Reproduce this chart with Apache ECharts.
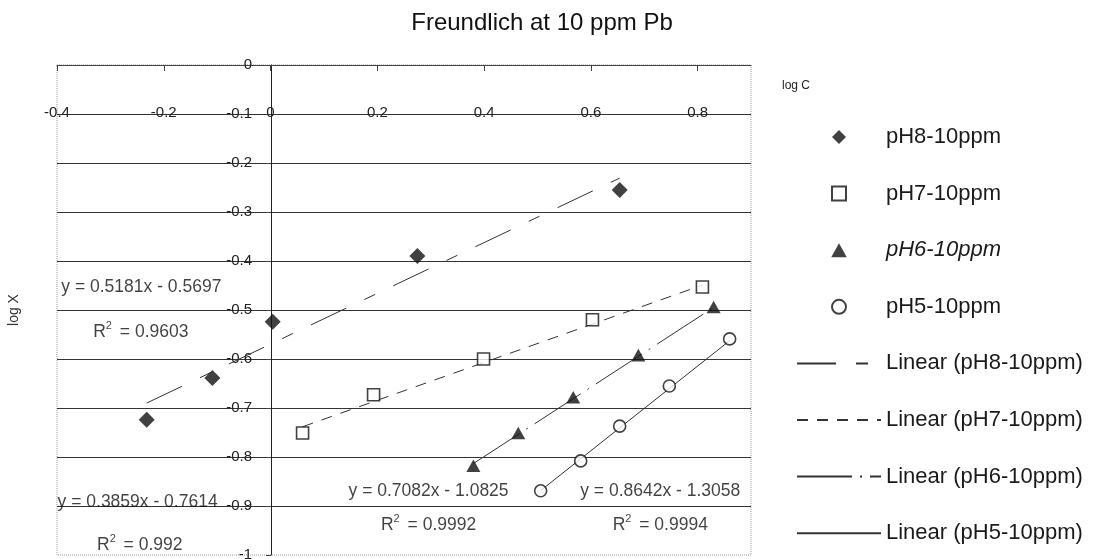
<!DOCTYPE html>
<html><head><meta charset="utf-8">
<script src="https://cdn.jsdelivr.net/npm/echarts@6/dist/echarts.min.js"></script>
<style>html,body{margin:0;padding:0;background:#fff}#c{width:1095px;height:559px}</style>
</head><body><div id="c"></div>
<script>
// ---- data ----
const seriesNames = ['pH8-10ppm', 'pH7-10ppm', 'pH6-10ppm', 'pH5-10ppm'];
const ph8X = [-0.232, -0.109, 0.004, 0.275, 0.654];
const ph8Y = [-0.724, -0.639, -0.524, -0.390, -0.255];
const ph7X = [0.060, 0.193, 0.399, 0.603, 0.809];
const ph7Y = [-0.751, -0.673, -0.600, -0.520, -0.453];
const ph6X = [0.380, 0.464, 0.567, 0.689, 0.830];
const ph6Y = [-0.818, -0.751, -0.678, -0.592, -0.494];
const ph5X = [0.506, 0.581, 0.654, 0.747, 0.860];
const ph5Y = [-0.869, -0.808, -0.737, -0.655, -0.559];
const slopes = [0.5181, 0.3859, 0.7082, 0.8642];
const intercepts = [-0.5697, -0.7614, -1.0825, -1.3058];
const r2Values = ['0.9603', '0.992', '0.9992', '0.9994'];
const eqTexts = ['y = 0.5181x - 0.5697', 'y = 0.3859x - 0.7614', 'y = 0.7082x - 1.0825', 'y = 0.8642x - 1.3058'];

const xs = [ph8X, ph7X, ph6X, ph5X];
const ys = [ph8Y, ph7Y, ph6Y, ph5Y];
const zip = (a, b) => a.map((v, i) => [v, b[i]]);

// ---- styles ----
const symbols = ['path://M0,-1L1,0L0,1L-1,0Z', 'path://M-1,-1L1,-1L1,1L-1,1Z', 'path://M0,-1L1,0.8L-1,0.8Z', 'circle'];
const symSizes = [16, 12, 14, 12];
const filled = [true, false, true, false];
const dashes = [[39, 20, 12, 20], [11, 9], [55, 8, 2, 8], 'solid'];

const series = [];
seriesNames.forEach((n, i) => {
  series.push({
    name: n, type: 'scatter', data: zip(xs[i], ys[i]),
    symbol: symbols[i], symbolSize: symSizes[i], symbolKeepAspect: true, z: 5,
    itemStyle: filled[i] ? { color: '#111' } : { color: '#fff', borderColor: '#111', borderWidth: 1.6 }
  });
});
seriesNames.forEach((n, i) => {
  const x0 = Math.min(...xs[i]), x1 = Math.max(...xs[i]);
  series.push({
    name: 'Linear (' + n + ')', type: 'line', symbol: 'none', z: 3,
    data: [[x0, slopes[i] * x0 + intercepts[i]], [x1, slopes[i] * x1 + intercepts[i]]],
    lineStyle: { color: '#333', width: 1, type: dashes[i] },
    itemStyle: { color: '#333' }
  });
});

// equation annotations (positions in data units)
const eqPos = [[-0.242, -0.453], [-0.249, -0.892], [0.296, -0.869], [0.730, -0.869]];
const r2Pos = [[-0.243, -0.545], [-0.245, -0.980], [0.296, -0.939], [0.730, -0.939]];
const notes = [];
eqTexts.forEach((t, i) => {
  notes.push({ value: eqPos[i], label: { formatter: t } });
  notes.push({ value: r2Pos[i], label: { formatter: 'R{s|2} = ' + r2Values[i] } });
});
series.push({
  name: 'notes', type: 'scatter', data: notes, symbolSize: 1, silent: true, z: 6,
  itemStyle: { color: 'rgba(0,0,0,0)' },
  label: {
    show: true, position: 'inside', color: '#111', fontSize: 17.5, fontFamily: 'Liberation Sans',
    rich: { s: { fontSize: 11, padding: [0, 3, 12, 0], color: '#111', fontFamily: 'Liberation Sans' } }
  },
  emphasis: { disabled: true }
});

const hidden = { color: 'rgba(0,0,0,0)', borderColor: 'rgba(0,0,0,0)', borderWidth: 0 };
const legendData = seriesNames.map((n, i) => i === 2 ? { name: n, textStyle: { fontStyle: 'italic' } } : { name: n })
  .concat(seriesNames.map(n => ({ name: 'Linear (' + n + ')', itemStyle: hidden })));

const option = {
  animation: false,
  backgroundColor: '#fff',
  title: {
    text: 'Freundlich at 10 ppm Pb', left: 537, textAlign: 'center', top: 6,
    textStyle: { fontSize: 24, fontWeight: 'normal', color: '#111', fontFamily: 'Liberation Sans' }
  },
  legend: {
    data: legendData, orient: 'vertical', left: 796, top: 126, padding: 0,
    itemWidth: 84, itemHeight: 14, itemGap: 34.6, symbolKeepAspect: true,
    textStyle: { fontSize: 22, color: '#1a1a1a', fontFamily: 'Liberation Sans' }, selectedMode: false
  },
  grid: { left: 57, right: 344, top: 65, bottom: 4, outerBoundsMode: 'none', show: true, borderColor: '#999', borderWidth: 1, borderType: 'dotted' },
  xAxis: {
    type: 'value', min: -0.4, max: 0.9, interval: 0.2, position: 'top',
    axisLine: { onZero: false, lineStyle: { color: '#444', width: 1 } },
    axisTick: { inside: true, length: 6, lineStyle: { color: '#444' } },
    axisLabel: { inside: true, margin: 40, fontSize: 15, color: '#222', fontFamily: 'Liberation Sans', showMaxLabel: false },
    splitLine: { show: false }
  },
  yAxis: {
    type: 'value', min: -1, max: 0, interval: 0.1, position: 'left', offset: -214,
    name: 'log X', nameLocation: 'middle', nameGap: 250, nameRotate: 90,
    nameTextStyle: { fontSize: 14, color: '#333', fontFamily: 'Liberation Sans' },
    axisLine: { onZero: false, lineStyle: { color: '#222', width: 1 } },
    axisTick: { show: true, length: 5, lineStyle: { color: '#444' } },
    axisLabel: { margin: 19, fontSize: 15, color: '#222', fontFamily: 'Liberation Sans' },
    splitLine: { show: true, showMinLine: false, showMaxLine: false, lineStyle: { color: '#333', width: 1 } }
  },
  graphic: [{ type: 'text', left: 782, top: 80, style: { text: 'log C', fontSize: 12, fill: '#222', fontFamily: 'Liberation Sans' } }],
  series: series
};
echarts.init(document.getElementById('c')).setOption(option);
</script></body></html>
